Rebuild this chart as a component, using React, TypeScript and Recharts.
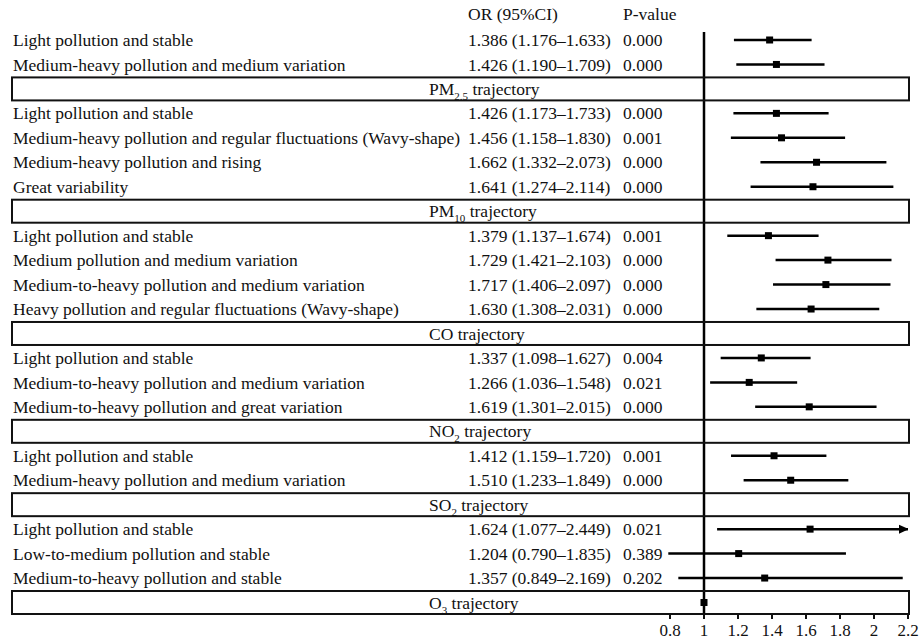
import React from "react";
import {
  ScatterChart,
  Scatter,
  XAxis,
  YAxis,
  ErrorBar,
  ReferenceLine,
} from "recharts";

// ---------------- data ----------------
const rowLabels = [
  "Light pollution and stable",
  "Medium-heavy pollution and medium variation",
  "Light pollution and stable",
  "Medium-heavy pollution and regular fluctuations (Wavy-shape)",
  "Medium-heavy pollution and rising",
  "Great variability",
  "Light pollution and stable",
  "Medium pollution and medium variation",
  "Medium-to-heavy pollution and medium variation",
  "Heavy pollution and regular fluctuations (Wavy-shape)",
  "Light pollution and stable",
  "Medium-to-heavy pollution and medium variation",
  "Medium-to-heavy pollution and great variation",
  "Light pollution and stable",
  "Medium-heavy pollution and medium variation",
  "Light pollution and stable",
  "Low-to-medium pollution and stable",
  "Medium-to-heavy pollution and stable",
];
const orValues = [1.386, 1.426, 1.426, 1.456, 1.662, 1.641, 1.379, 1.729, 1.717, 1.63, 1.337, 1.266, 1.619, 1.412, 1.51, 1.624, 1.204, 1.357];
const ciLower = [1.176, 1.19, 1.173, 1.158, 1.332, 1.274, 1.137, 1.421, 1.406, 1.308, 1.098, 1.036, 1.301, 1.159, 1.233, 1.077, 0.79, 0.849];
const ciUpper = [1.633, 1.709, 1.733, 1.83, 2.073, 2.114, 1.674, 2.103, 2.097, 2.031, 1.627, 1.548, 2.015, 1.72, 1.849, 2.449, 1.835, 2.169];
const pValues = ["0.000", "0.000", "0.000", "0.001", "0.000", "0.000", "0.001", "0.000", "0.000", "0.000", "0.004", "0.021", "0.000", "0.001", "0.000", "0.021", "0.389", "0.202"];
const groupSizes = [2, 4, 4, 3, 2, 3];
const sectionNames = ["PM", "PM", "CO", "NO", "SO", "O"];
const sectionSubscripts = ["2.5", "10", "", "2", "2", "3"];
const referenceOR = 1;
const xTicks = [0.8, 1, 1.2, 1.4, 1.6, 1.8, 2, 2.2];
const headerOR = "OR (95%CI)";
const headerP = "P-value";

const X_MIN = 0.8;
const X_MAX = 2.2;

// ---------------- layout of slots ----------------
type Slot =
  | { kind: "row"; idx: number }
  | { kind: "section"; idx: number };

const slots: Slot[] = [];
{
  let r = 0;
  groupSizes.forEach((n, g) => {
    for (let k = 0; k < n; k++) slots.push({ kind: "row", idx: r++ });
    slots.push({ kind: "section", idx: g });
  });
}
const slotTicks = slots.map((_, i) => i);

// CI segments are truncated at the axis maximum; an arrow marks the overflow
const pointData = slots
  .map((s, i) => {
    if (s.kind === "row") {
      const o = orValues[s.idx];
      const hi = Math.min(ciUpper[s.idx], X_MAX);
      return { x: o, y: i, err: [o - ciLower[s.idx], hi - o] };
    }
    if (s.idx === sectionNames.length - 1) {
      return { x: referenceOR, y: i, err: [0, 0] };
    }
    return null;
  })
  .filter(Boolean) as { x: number; y: number; err: number[] }[];

const arrowData = slots
  .map((s, i) =>
    s.kind === "row" && ciUpper[s.idx] > X_MAX ? { x: X_MAX, y: i } : null
  )
  .filter(Boolean) as { x: number; y: number }[];

// ---------------- styling ----------------
const FONT = "Liberation Serif, Times New Roman, serif";
const FS = 17.5;
const TXT = "#111";
const LABEL_X = 13;
const OR_X = 468;
const P_X = 623;
const SEC_X = 429;
const BOX_L = 12;
const BOX_R = 909;
const BOX_H = 23;

const txtStyle = { fontFamily: FONT, fontSize: FS, fill: TXT } as const;

const fmt = (v: number) => v.toFixed(3);

const RowTick = (props: any) => {
  const { y, payload } = props;
  const i = payload.value as number;
  const s = slots[i];
  if (!s) return null;
  const header =
    i === 0 ? (
      <g>
        <text x={OR_X} y={y - 26} dy="0.35em" style={txtStyle}>
          {headerOR}
        </text>
        <text x={P_X} y={y - 26} dy="0.35em" style={txtStyle}>
          {headerP}
        </text>
      </g>
    ) : null;
  if (s.kind === "row") {
    const r = s.idx;
    return (
      <g>
        {header}
        <text x={LABEL_X} y={y} dy="0.35em" style={txtStyle}>
          {rowLabels[r]}
        </text>
        <text x={OR_X} y={y} dy="0.35em" style={txtStyle}>
          {`${fmt(orValues[r])} (${fmt(ciLower[r])}\u2013${fmt(ciUpper[r])})`}
        </text>
        <text x={P_X} y={y} dy="0.35em" style={txtStyle}>
          {pValues[r]}
        </text>
      </g>
    );
  }
  const g = s.idx;
  const sub = sectionSubscripts[g];
  return (
    <g>
      {header}
      <rect
        x={BOX_L}
        y={y - BOX_H / 2}
        width={BOX_R - BOX_L}
        height={BOX_H}
        fill="none"
        stroke="#111"
        strokeWidth={2}
      />
      <text x={SEC_X} y={y} dy="0.35em" style={txtStyle}>
        <tspan>{sectionNames[g]}</tspan>
        {sub ? (
          <tspan style={{ fontSize: 11 }} dy={5}>
            {sub}
          </tspan>
        ) : null}
        <tspan dy={sub ? -5 : 0}>{" trajectory"}</tspan>
      </text>
    </g>
  );
};

const SquareShape = (p: any) => (
  <rect x={p.cx - 3.5} y={p.cy - 3.5} width={7} height={7} fill="#000" />
);

const ArrowShape = (p: any) => (
  <path
    d={`M${p.cx - 9},${p.cy - 4.5} L${p.cx + 1},${p.cy} L${p.cx - 9},${p.cy + 4.5} Z`}
    fill="#000"
  />
);

export default function App() {
  return (
    <div style={{ width: 919, height: 642, background: "#fff" }}>
      <style>{"html,body{margin:0;padding:0;background:#fff;}"}</style>
      <ScatterChart
        width={919}
        height={642}
        margin={{ top: 32, right: 11, bottom: 0, left: 0 }}
      >
        <XAxis
          type="number"
          dataKey="x"
          domain={[X_MIN, X_MAX]}
          allowDataOverflow
          ticks={xTicks}
          interval={0}
          axisLine={false}
          tickLine={{ stroke: "#111", strokeWidth: 2 }}
          tickSize={5}
          tickMargin={5}
          height={28}
          tick={{ fill: TXT, fontSize: 17, fontFamily: FONT }}
          tickFormatter={(v: number) => String(v)}
        />
        <YAxis
          type="number"
          dataKey="y"
          domain={[-0.327, 23.47]}
          allowDataOverflow
          reversed
          ticks={slotTicks}
          interval={0}
          width={670}
          axisLine={false}
          tickLine={false}
          tick={<RowTick />}
        />
        <ReferenceLine x={referenceOR} stroke="#000" strokeWidth={2.5} ifOverflow="visible" />
        <Scatter data={pointData} shape={<SquareShape />} isAnimationActive={false}>
          <ErrorBar dataKey="err" direction="x" width={0} stroke="#000" strokeWidth={2.5} />
        </Scatter>
        <Scatter data={arrowData} shape={<ArrowShape />} isAnimationActive={false} />
      </ScatterChart>
    </div>
  );
}
